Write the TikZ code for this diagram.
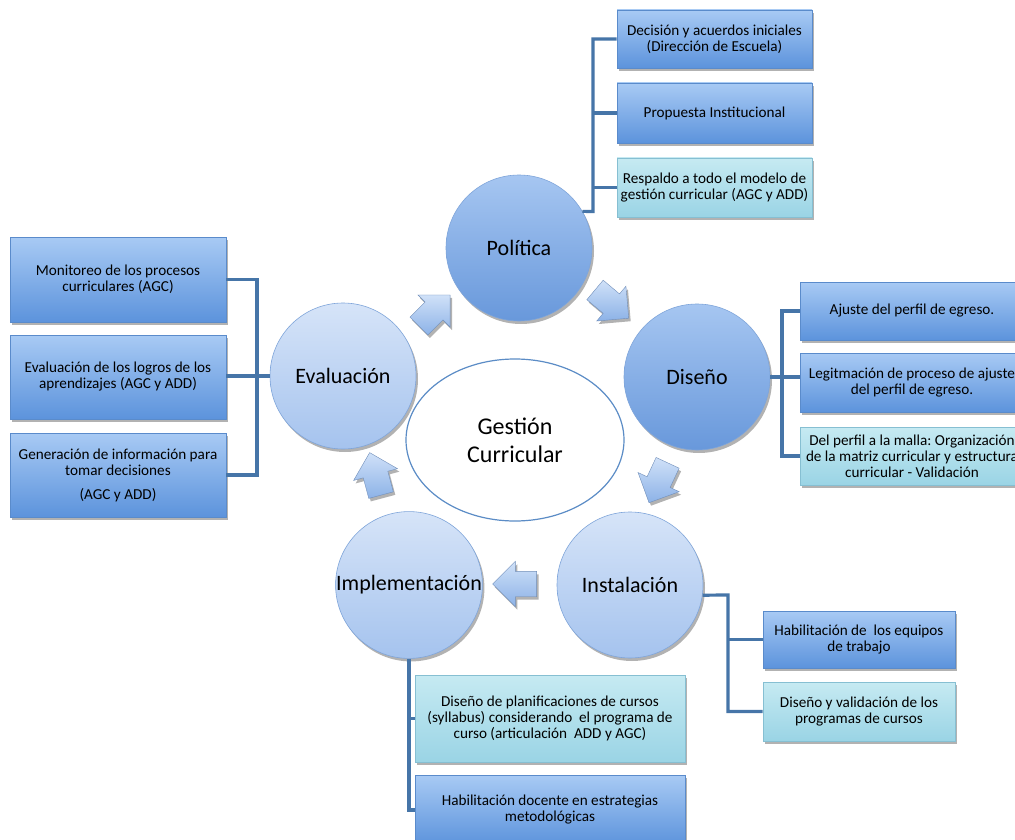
\documentclass[tikz,border=0pt]{standalone}
\usepackage{fontspec}
\setmainfont{Carlito}
\frenchspacing
\usetikzlibrary{shapes.geometric,shapes.arrows,shadows}

\definecolor{circtopd}{HTML}{A6C6F1}
\definecolor{circbotd}{HTML}{6898DB}
\definecolor{circtopl}{HTML}{D6E4F8}
\definecolor{circbotl}{HTML}{A5C3EE}
\definecolor{circedge}{HTML}{7FA5DA}
\definecolor{boxtop}{HTML}{A8CAF4}
\definecolor{boxbot}{HTML}{5C93DC}
\definecolor{boxedge}{HTML}{5A8BCB}
\definecolor{cyantop}{HTML}{C6EAF2}
\definecolor{cyanbot}{HTML}{9AD4E5}
\definecolor{cyanedge}{HTML}{86BFD2}
\definecolor{ramacol}{HTML}{4675A8}
\definecolor{ovalcol}{HTML}{5B8CC6}
\definecolor{flechatop}{HTML}{D0E1F8}
\definecolor{flechabot}{HTML}{8CB2E7}

\tikzset{
  sombra/.style={drop shadow={shadow xshift=2pt, shadow yshift=-3pt, opacity=.3, fill=black}},
  fase/.style={circle, inner sep=0pt, minimum size=146, draw=circedge, line width=.6pt,
    font=\fontsize{22}{26}\selectfont, sombra},
  fasedark/.style={fase, top color=circtopd, bottom color=circbotd},
  faselight/.style={fase, top color=circtopl, bottom color=circbotl},
  tarea/.style={rectangle, align=center, font=\fontsize{15.2}{16}\selectfont,
    top color=boxtop, bottom color=boxbot, draw=boxedge, line width=.6pt, sombra},
  tareaclara/.style={tarea, top color=cyantop, bottom color=cyanbot, draw=cyanedge},
  rama/.style={draw=ramacol, line width=3.2pt},
  flecha/.style={single arrow, inner sep=0pt, minimum height=44,
    single arrow head extend=10, top color=flechatop, bottom color=flechabot,
    draw=flechabot!80!black, line width=.4pt, sombra}
}

\begin{document}
\begin{tikzpicture}[x=1pt, y=-1pt]

  \path[use as bounding box, fill=white] (0,0) rectangle (1015,840);
  \clip (0,0) rectangle (1015,840);

  % fases del ciclo
  \node[fasedark]  (pol) at (519,248) {Política};
  \node[faselight] (eva) at (343,376) {Evaluación};
  \node[fasedark]  (dis) at (697,377) {Diseño};
  \node[faselight] (ins) at (630,585) {Instalación};
  \node[faselight] (imp) at (409,585) {Implementación};

  \node[ellipse, minimum width=218, minimum height=162, draw=ovalcol, line width=1.2pt,
    fill=white, align=center, font=\fontsize{24}{28}\selectfont] (ges) at (515,440)
    {Gestión\\Curricular};

  % flechas entre fases
  \node[flecha, rotate=45]   (f1) at (430,315) {\rule{0pt}{25pt}};
  \node[flecha, rotate=-40]  (f2) at (607,300) {\rule{0pt}{25pt}};
  \node[flecha, rotate=-115] (f3) at (661,477) {\rule{0pt}{25pt}};
  \node[flecha, rotate=180]  (f4) at (521,584) {\rule{0pt}{25pt}};
  \node[flecha, rotate=105]  (f5) at (377,480) {\rule{0pt}{25pt}};

  % Politica
  \node[tarea, minimum width=195, minimum height=58] (p1) at (714.5,39)
    {Decisión y acuerdos iniciales\\(Dirección de Escuela)};
  \node[tarea, minimum width=195, minimum height=60] (p2) at (714.5,113)
    {Propuesta Institucional};
  \node[tareaclara, minimum width=195, minimum height=59] (p3) at (714.5,187.5)
    {Respaldo a todo el modelo de\\gestión curricular (AGC y ADD)};
  \coordinate (pbus) at (593,211.5);
  \draw[rama] (pol.30) -- (pbus) |- (p1.west);
  \draw[rama] (p2.west) -- (p2.west -| pbus);
  \draw[rama] (p3.west) -- (p3.west -| pbus);

  % Evaluacion
  \node[tarea, minimum width=216, minimum height=85] (e1) at (118,279.5)
    {Monitoreo de los procesos\\curriculares (AGC)};
  \node[tarea, minimum width=216, minimum height=84] (e2) at (118,377)
    {Evaluación de los logros de los\\aprendizajes (AGC y ADD)};
  \node[tarea, minimum width=216, minimum height=84] (e3) at (118,475)
    {Generación de información para\\tomar decisiones\\[8pt](AGC y ADD)};
  \coordinate (ebus) at (257,376);
  \draw[rama] (e1.east) -| (ebus) |- (e3.east);
  \draw[rama] (e2.east |- eva.west) -- (eva.west);

  % Diseno
  \node[tarea, minimum width=224, minimum height=58] (d1) at (912,311)
    {Ajuste del perfil de egreso.};
  \node[tarea, minimum width=224, minimum height=59] (d2) at (912,382.5)
    {Legitmación de proceso de ajuste\\del perfil de egreso.};
  \node[tareaclara, minimum width=224, minimum height=58] (d3) at (912,456)
    {Del perfil a la malla: Organización\\de la matriz curricular y estructura\\curricular - Validación};
  \coordinate (dbus) at (782,377);
  \draw[rama] (d1.west) -| (dbus) |- (d3.west);
  \draw[rama] (dis.east) -- (dbus);
  \draw[rama] (dbus) -- (d2.west |- dbus);

  % Instalacion
  \node[tarea, minimum width=192, minimum height=57] (i1) at (859,639.5)
    {Habilitación de\ \ los equipos\\de trabajo};
  \node[tareaclara, minimum width=192, minimum height=59] (i2) at (859,711.5)
    {Diseño y validación de los\\programas de cursos};
  \coordinate (ibus) at (728,595);
  \draw[rama] (ins.-8) -- (ibus) |- (i2.west);
  \draw[rama] (i1.west) -- (i1.west -| ibus);

  % Implementacion
  \node[tareaclara, minimum width=270, minimum height=87] (m1) at (550,718.5)
    {Diseño de planificaciones de cursos\\(syllabus) considerando\ \ el programa de\\curso (articulación\ \ ADD y AGC)};
  \node[tarea, minimum width=270, minimum height=70] (m2) at (550,810)
    {Habilitación docente en estrategias\\metodológicas};
  \draw[rama] (imp.south) |- (m2.west);
  \draw[rama] (m1.west) -- (m1.west -| imp.south);

\end{tikzpicture}
\end{document}
